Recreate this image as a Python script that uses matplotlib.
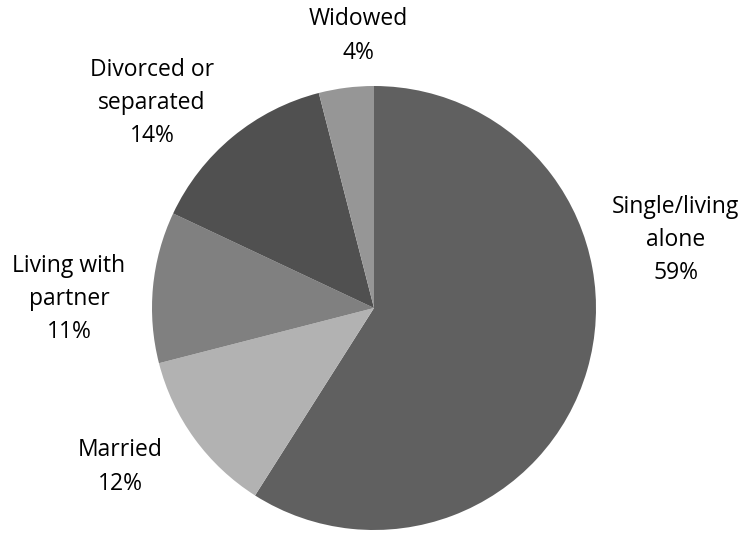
import matplotlib.pyplot as plt

categories = ['Single/living\nalone', 'Married', 'Living with\npartner', 'Divorced or\nseparated', 'Widowed']
shares = [59, 12, 11, 14, 4]
colors = ['#606060', '#b2b2b2', '#808080', '#505050', '#969696']

# label centres in pixel space (layout only)
label_pos = [(676, 240), (120, 467), (69, 299), (152, 103), (358, 36)]

W, H = 748, 537
fig = plt.figure(figsize=(W / 100, H / 100), dpi=100)
ax = fig.add_axes([0, 0, 1, 1])

ax.pie(shares, colors=colors, startangle=90, counterclock=False,
       center=(374, H - 308), radius=222, frame=True,
       wedgeprops=dict(linewidth=0))
ax.set_xlim(0, W)
ax.set_ylim(0, H)
ax.set_aspect('auto')
ax.axis('off')

for name, val, (px, py) in zip(categories, shares, label_pos):
    ax.text(px, H - py, f'{name}\n{val}%', ha='center', va='center',
            fontsize=16.5, family=['Open Sans', 'DejaVu Sans'], color='black',
            linespacing=1.52)

fig.savefig('out.png', dpi=100)
